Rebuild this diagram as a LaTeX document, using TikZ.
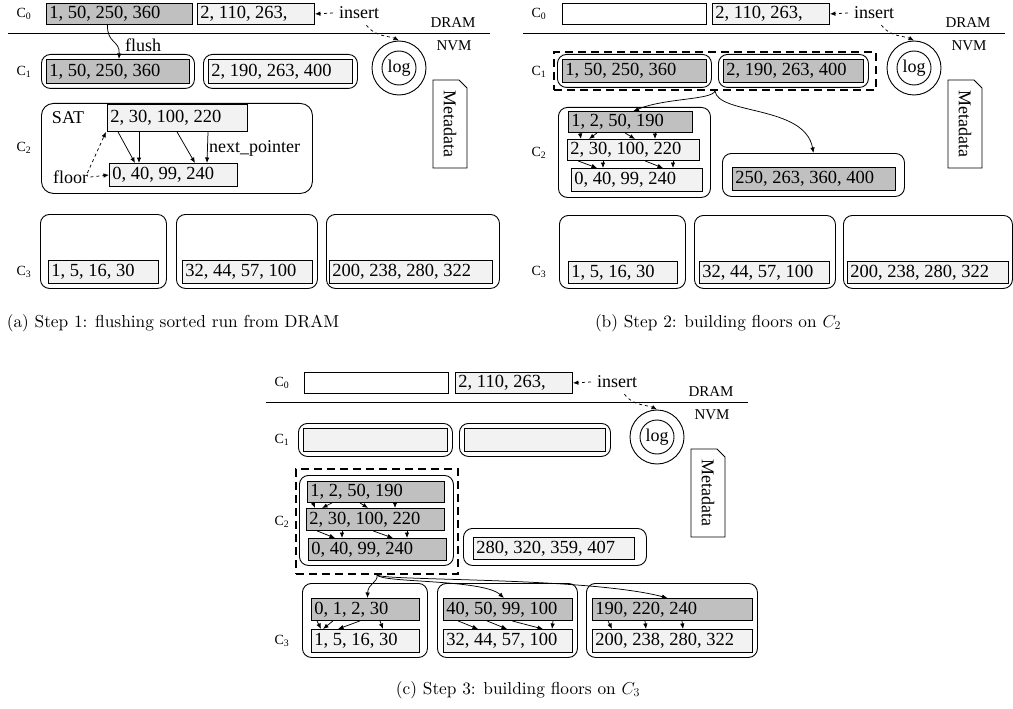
\documentclass[tikz,border=0pt]{standalone}
\usepackage{fontspec}
\newfontfamily\tnr{Liberation Serif}
\newfontfamily\capfont{lmroman10-regular}[Extension=.otf]
\usetikzlibrary{arrows.meta}
\definecolor{cdark}{RGB}{192,192,192}
\definecolor{clight}{RGB}{242,242,242}
\tikzset{
 cell/.style={draw, line width=0.9pt, anchor=north west, inner xsep=3pt, inner ysep=0pt, font=\tnr\fontsize{18.5}{20}\selectfont},
 grp/.style={draw, line width=0.9pt, rounded corners=9pt, anchor=north west, inner sep=0pt},
 dashgrp/.style={draw, line width=2pt, dash pattern=on 8pt off 5pt, anchor=north west, inner sep=0pt},
 lbl/.style={font=\tnr\fontsize{18}{20}\selectfont, inner sep=1pt},
 smalltxt/.style={font=\tnr\fontsize{15}{16}\selectfont, inner sep=1pt},
 lvl/.style={font=\tnr\fontsize{14}{16}\selectfont, inner sep=1pt},
 arr/.style={-{Latex[length=5.5pt,width=4.5pt]}, line width=0.75pt},
 darr/.style={arr, dashed},
 captxt/.style={font=\capfont\fontsize{17.3}{20}\selectfont, inner sep=0pt},
}
\newcommand{\cellat}[7]{\node[cell,fill=#6,minimum height=#5pt] (#1) at (#2,#3) {\makebox[\dimexpr#4pt-6pt\relax][l]{#7}};}
\newcommand{\grpat}[6]{\node[#6,minimum width=#4pt,minimum height=#5pt] (#1) at (#2,#3) {};}
\newcommand{\lev}[4]{\node[lvl] (#1) at (#2,#3) {C\textsubscript{#4}};}
\newcommand{\common}[1]{%
 \lev{#1L0}{24}{-14}{0}
 \cellat{#1c0r}{197}{-3}{117}{21}{clight}{2, 110, 263,}
 \node[lbl,anchor=west] (#1ins) at (338,-13) {insert};
 \draw[darr] ([xshift=-5pt]#1ins.west) -- (#1c0r.east);
 \draw[line width=0.9pt] (8,-33) -- (490,-33);
 \node[smalltxt] (#1dram) at (453,-23) {DRAM};
 \node[smalltxt] (#1nvm) at (454,-46) {NVM};
 \node[circle,draw,line width=0.9pt,minimum size=54pt,inner sep=0pt] (#1log) at (399,-68) {};
 \node[circle,draw,line width=0.9pt,minimum size=34pt,inner sep=0pt,lbl] (#1logi) at (#1log) {log};
 \draw[darr] ([xshift=-14pt,yshift=-5pt]#1ins.south east) .. controls (375,-37) and (390,-36) .. (#1log.north);
 \draw[line width=0.9pt] (433,-80) -- (459,-80) -- (467,-88) -- (467,-168) -- (433,-168) -- cycle;
 \node[lbl,rotate=-90] (#1meta) at (450,-124) {Metadata};
}
\begin{document}
\begin{tikzpicture}[x=1pt,y=1pt]
\useasboundingbox (0,0) rectangle (1013,-709);
% ---------------- panel (a)
\begin{scope}
\common{a}
\cellat{ac0l}{46}{-3}{146}{21}{cdark}{1, 50, 250, 360}
\lev{aL1}{24}{-72}{1}
\grpat{ag1l}{41}{-54}{153}{34}{grp}
\cellat{ac1l}{46}{-59}{143}{24}{cdark}{1, 50, 250, 360}
\grpat{ag1r}{203}{-54}{154}{34}{grp}
\cellat{ac1r}{208}{-59}{144}{24}{clight}{2, 190, 263, 400}
\draw[arr] ([xshift=-12pt]ac0l.south) .. controls (107,-44) and (120,-40) .. ([xshift=1pt]ac1l.north);
\node[lbl,anchor=west] (aflush) at (124,-45) {flush};
\lev{aL2}{24}{-148}{2}
\grpat{ag2}{41}{-103}{271}{90}{grp,rounded corners=12pt}
\node[lbl] (asatl) at (68,-118) {SAT};
\cellat{asat}{107}{-104}{140}{27}{clight}{2, 30, 100, 220}
\cellat{ac2b}{109}{-163}{128}{23}{clight}{0, 40, 99, 240}
\node[lbl,anchor=west] (afloor) at (52,-177) {floor};
\node[lbl,anchor=west] (anext) at (208,-148) {next\_pointer};
\draw[arr] ([xshift=11pt]asat.south west) -- ([xshift=26pt]ac2b.north west);
\draw[arr] ([xshift=32pt]asat.south west) -- ([xshift=30pt]ac2b.north west);
\draw[arr] ([xshift=70pt]asat.south west) -- ([xshift=86pt]ac2b.north west);
\draw[arr] ([xshift=101pt]asat.south west) -- ([xshift=98pt]ac2b.north west);
\draw[darr] ([xshift=-2pt,yshift=4pt]afloor.east) -- ([xshift=-1pt]asat.south west);
\draw[darr] ([xshift=1pt]afloor.east) -- (ac2b.west);
\lev{aL3}{24}{-272}{3}
\grpat{ag3a}{40}{-214}{126}{74}{grp}
\cellat{ac3a}{48}{-260}{110}{23}{clight}{1, 5, 16, 30}
\grpat{ag3b}{176}{-214}{141}{74}{grp}
\cellat{ac3b}{182}{-260}{130}{23}{clight}{32, 44, 57, 100}
\grpat{ag3c}{326}{-214}{173}{74}{grp}
\cellat{ac3c}{329}{-260}{163}{23}{clight}{200, 238, 280, 322}
\end{scope}
% ---------------- panel (b)
\begin{scope}[shift={(515,0)}]
\common{b}
\cellat{bc0l}{47}{-3}{144}{21}{white}{}
\lev{bL1}{24}{-72}{1}
\grpat{bg1l}{42}{-54}{154}{33}{grp}
\cellat{bc1l}{47}{-59}{144}{23}{cdark}{1, 50, 250, 360}
\grpat{bg1r}{203}{-54}{150}{33}{grp}
\cellat{bc1r}{208}{-59}{140}{23}{cdark}{2, 190, 263, 400}
\grpat{bdash}{38}{-51}{322}{38}{dashgrp}
\lev{bL2}{24}{-153}{2}
\grpat{bg2}{43}{-107}{152}{90}{grp}
\cellat{br1}{53}{-111}{124}{21}{cdark}{1, 2, 50, 190}
\cellat{br2}{52}{-139}{132}{21}{clight}{2, 30, 100, 220}
\cellat{br3}{56}{-168}{131}{23}{clight}{0, 40, 99, 240}
\draw[arr] ([xshift=12pt]br1.south west) -- ([xshift=14pt]br2.north west);
\draw[arr] ([xshift=29pt]br1.south west) -- ([xshift=22pt]br2.north west);
\draw[arr] ([xshift=57pt]br1.south west) -- ([xshift=68pt]br2.north west);
\draw[arr] ([xshift=87pt]br1.south west) -- ([xshift=88pt]br2.north west);
\draw[arr] ([xshift=11pt]br2.south west) -- ([xshift=26pt]br3.north west);
\draw[arr] ([xshift=36pt]br2.south west) -- ([xshift=32pt]br3.north west);
\draw[arr] ([xshift=78pt]br2.south west) -- ([xshift=92pt]br3.north west);
\draw[arr] ([xshift=106pt]br2.south west) -- ([xshift=102pt]br3.north west);
\grpat{bg2r}{207}{-153}{182}{43}{grp}
\cellat{bc2r}{217}{-167}{163}{23}{cdark}{250, 263, 360, 400}
\draw[arr] (bdash.south) .. controls (197,-100) and (150,-98) .. ([xshift=3pt]br1.north);
\draw[arr] (bdash.south) .. controls (203,-115) and (290,-105) .. (bg2r.north);
\lev{bL3}{24}{-272}{3}
\grpat{bg3a}{44}{-215}{126}{73}{grp}
\cellat{bc3a}{53}{-261}{109}{22}{clight}{1, 5, 16, 30}
\grpat{bg3b}{179}{-215}{141}{73}{grp}
\cellat{bc3b}{184}{-261}{130}{22}{clight}{32, 44, 57, 100}
\grpat{bg3c}{328}{-215}{169}{73}{grp}
\cellat{bc3c}{332}{-261}{161}{22}{clight}{200, 238, 280, 322}
\end{scope}
% ---------------- panel (c)
\begin{scope}[shift={(258,-369)}]
\common{c}
\cellat{cc0l}{46}{-3}{144}{21}{white}{}
\lev{cL1}{24}{-71}{1}
\grpat{cg1l}{40}{-54}{154}{33}{grp}
\cellat{cc1l}{45}{-59}{144}{23}{clight}{}
\grpat{cg1r}{201}{-54}{151}{33}{grp}
\cellat{cc1r}{206}{-59}{141}{23}{clight}{}
\lev{cL2}{24}{-153}{2}
\grpat{cdash}{37}{-99}{162}{105}{dashgrp}
\grpat{cg2}{41}{-106}{154}{90}{grp}
\cellat{cr1}{49}{-112}{137}{21}{cdark}{1, 2, 50, 190}
\cellat{cr2}{48}{-139}{138}{22}{cdark}{2, 30, 100, 220}
\cellat{cr3}{50}{-169}{138}{22}{cdark}{0, 40, 99, 240}
\draw[arr] ([xshift=6pt]cr1.south west) -- ([xshift=9pt]cr2.north west);
\draw[arr] ([xshift=25pt]cr1.south west) -- ([xshift=16pt]cr2.north west);
\draw[arr] ([xshift=53pt]cr1.south west) -- ([xshift=62pt]cr2.north west);
\draw[arr] ([xshift=88pt]cr1.south west) -- ([xshift=89pt]cr2.north west);
\draw[arr] ([xshift=11pt]cr2.south west) -- ([xshift=27pt]cr3.north west);
\draw[arr] ([xshift=36pt]cr2.south west) -- ([xshift=34pt]cr3.north west);
\draw[arr] ([xshift=67pt]cr2.south west) -- ([xshift=85pt]cr3.north west);
\draw[arr] ([xshift=101pt]cr2.south west) -- ([xshift=99pt]cr3.north west);
\grpat{cg2r}{205}{-159}{183}{37}{grp}
\cellat{cc2r}{215}{-168}{161}{22}{clight}{280, 320, 359, 407}
\lev{cL3}{24}{-272}{3}
\grpat{cg3a}{44}{-214}{125}{74}{grp}
\grpat{cg3b}{179}{-214}{140}{74}{grp}
\grpat{cg3c}{328}{-214}{171}{74}{grp}
\cellat{ct1}{53}{-229}{108}{22}{cdark}{0, 1, 2, 30}
\cellat{ct2}{185}{-229}{129}{22}{cdark}{40, 50, 99, 100}
\cellat{ct3}{334}{-229}{160}{22}{cdark}{190, 220, 240}
\cellat{cb1}{53}{-260}{108}{23}{clight}{1, 5, 16, 30}
\cellat{cb2}{185}{-260}{129}{23}{clight}{32, 44, 57, 100}
\cellat{cb3}{334}{-260}{160}{23}{clight}{200, 238, 280, 322}
\draw[arr] ([xshift=6pt]ct1.south west) -- ([xshift=10pt]cb1.north west);
\draw[arr] ([xshift=22pt]ct1.south west) -- ([xshift=12pt]cb1.north west);
\draw[arr] ([xshift=49pt]ct1.south west) -- ([xshift=27pt]cb1.north west);
\draw[arr] ([xshift=69pt]ct1.south west) -- ([xshift=72pt]cb1.north west);
\draw[arr] ([xshift=15pt]ct2.south west) -- ([xshift=35pt]cb2.north west);
\draw[arr] ([xshift=44pt]ct2.south west) -- ([xshift=64pt]cb2.north west);
\draw[arr] ([xshift=69pt]ct2.south west) -- ([xshift=100pt]cb2.north west);
\draw[arr] ([xshift=110pt]ct2.south west) -- ([xshift=109pt]cb2.north west);
\draw[arr] ([xshift=16pt]ct3.south west) -- ([xshift=20pt]cb3.north west);
\draw[arr] ([xshift=53pt]ct3.south west) -- ([xshift=54pt]cb3.north west);
\draw[arr] ([xshift=90pt]ct3.south west) -- ([xshift=91pt]cb3.north west);
\draw[arr] (cdash.south) .. controls (120,-214) and (110,-214) .. ([xshift=2pt]ct1.north);
\draw[arr] (cdash.south) .. controls (124,-214) and (225,-210) .. ([xshift=-4pt]ct2.north);
\draw[arr] (cdash.south) .. controls (126,-212) and (330,-208) .. ([xshift=-5pt]ct3.north);
\end{scope}
% ---------------- captions
\node[captxt] (capa) at (173,-323) {(a) Step 1: flushing sorted run from DRAM};
\node[captxt] (capb) at (718,-323) {(b) Step 2: building floors on $C_2$};
\node[captxt] (capc) at (518,-690) {(c) Step 3: building floors on $C_3$};
\end{tikzpicture}
\end{document}
